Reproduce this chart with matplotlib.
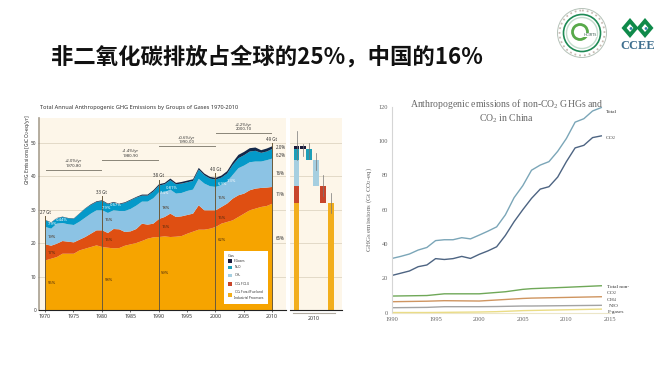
#!/usr/bin/env python3
import matplotlib
matplotlib.use("Agg")
import matplotlib.pyplot as plt
from matplotlib.patches import Circle, Polygon, Patch

W, H = 670, 381

title_text = "非二氧化碳排放占全球的25%，中国的16%"

# left chart, stacked tops by year
years = list(range(1970, 2011))
co2_fossil = [15, 15.5, 16, 17, 17, 17, 18, 18.5, 19, 19.5, 19, 18.8, 18.6, 18.7, 19.4, 19.8, 20.2, 20.8, 21.5, 21.9, 22,
              22.2, 22, 22.1, 22.3, 23, 23.6, 24.2, 24.2, 24.5, 25, 26, 26.5, 27, 28, 29, 30, 30.5, 31, 31.3, 32]
co2_folu = [19.8, 19.4, 20, 20.8, 20.6, 20.4, 21.2, 22, 23, 24, 24, 23.2, 24.4, 24.3, 23.5, 23.7, 24.4, 26, 25.7, 26, 27.4,
            28, 29, 28, 28.2, 28.6, 29, 31.5, 30, 30, 30, 31, 32, 33.5, 34.5, 35, 36, 36.5, 36.7, 36.8, 37]
ch4 = [25, 24.5, 26, 26.2, 25.8, 25.6, 26.6, 27.8, 29, 30, 30, 29.2, 30, 29.8, 29.8, 30.4, 31.4, 32.6, 32.6, 33.6, 35.4,
       35.4, 36.2, 35, 35.2, 35.8, 36.2, 39.4, 38, 37.2, 37, 37.6, 38.6, 40.6, 42.6, 43.4, 44.4, 44.6, 44.6, 45, 45.5]
n2o = [27, 26.3, 27.6, 28, 27.6, 27.5, 29, 30.5, 31.6, 32.5, 32.8, 31.8, 32.3, 31.8, 32.2, 33, 33.8, 34.4, 34.4, 35.6, 37.4,
       37.8, 39, 37.8, 38, 38.4, 38.8, 42.2, 40.5, 39.5, 39.2, 39.8, 41, 43.6, 45.6, 46.5, 47.6, 47.8, 47.2, 47.6, 48.4]
fgas = [27.1, 26.4, 27.7, 28.1, 27.7, 27.6, 29.1, 30.6, 31.8, 32.7, 33, 32, 32.5, 32, 32.4, 33.2, 34, 34.7, 34.7, 36, 37.8,
        38.2, 39.5, 38.2, 38.5, 38.9, 39.3, 42.7, 41, 40, 39.7, 40.4, 41.7, 44.4, 46.6, 47.5, 48.6, 48.8, 48, 48.5, 49.2]

left_title = "Total Annual Anthropogenic GHG Emissions by Groups of Gases 1970-2010"
left_ylabel = "GHG Emissions [GtCO$_2$-eq/yr]"
left_yticks = [0, 10, 20, 30, 40, 50]
left_xticks = [1970, 1975, 1980, 1985, 1990, 1995, 2000, 2005, 2010]
marker_years = [1970, 1980, 1990, 2000, 2010]
marker_tops = [27, 33, 38, 40, 49]
marker_labels = ["27 Gt", "33 Gt", "38 Gt", "40 Gt", "49 Gt"]
rate_spans = [(1970, 1980), (1980, 1990), (1990, 2000), (2000, 2010)]
rate_levels = [42, 45, 49, 53]
rate_labels = ["+2.0%/yr\n1970-80", "+1.4%/yr\n1980-90", "+0.6%/yr\n1990-00", "+2.2%/yr\n2000-10"]

pct_x = [1971.2, 1971.2, 1971.2, 1971.3, 1973, 1981.2, 1981.2, 1981.2, 1980.8, 1982.5,
         1991.2, 1991.2, 1991.2, 1991, 1992.4, 2001.2, 2001.2, 2001.2, 2001.2, 2002.8]
pct_y = [8, 17, 22, 25.8, 27, 9, 21, 27, 30.5, 31.5, 11, 25, 30.5, 35, 36.6, 21, 27.5, 33.5, 37.6, 38.7]
pct_txt = ["55%", "17%", "19%", "7.9%", "0.44%", "58%", "15%", "16%", "7.9%", "0.67%",
           "59%", "15%", "18%", "7.4%", "0.81%", "62%", "16%", "16%", "6.9%", "1.3%"]
pct_white = [3, 4, 8, 9, 13, 14, 18, 19]
side_y = [48.6, 46.4, 41, 34.6, 21.5]
side_txt = ["2.0%", "6.2%", "16%", "11%", "65%"]

# 2010 uncertainty bars
bar_x = [303, 309, 316, 323, 331]
bar_low = [48.2, 45, 37, 32, 0]
bar_high = [49, 48.2, 45, 37, 32]
whisker_high = [49.6, 50, 47, 40.4, 35]
stack_tops = [32, 37, 45, 48.2, 49]
stack_whisker = 53.6

gas_names = ["F-Gases", "N$_2$O", "CH$_4$", "CO$_2$ FOLU", "CO$_2$ Fossil Fuel and\nIndustrial Processes"]

# right chart
cn_years = list(range(1990, 2015))
cn_total = [31.6, 32.8, 34.2, 36.5, 38, 42, 42.5, 42.5, 43.7, 43, 45.2, 47.5, 50, 57, 67,
            74, 83, 86, 88, 94, 101.5, 111, 113, 117.5, 119.5]
cn_co2 = [21.7, 23, 24.3, 26.8, 27.8, 31.5, 31, 31.5, 32.8, 31.6, 34, 36, 38.4, 45, 53,
          60, 66.6, 72, 73.4, 79, 88, 96, 97.5, 102, 103]
small_years = [1990, 1994, 1996, 2000, 2002, 2003, 2005, 2006, 2010, 2014]
cn_nonco2 = [9.7, 10, 11, 11, 11.8, 12.2, 13.6, 14, 14.8, 15.7]
cn_ch4 = [6.4, 6.7, 7, 6.8, 7.4, 7.7, 8.3, 8.5, 8.9, 9.3]
cn_n2o = [2.9, 3.1, 3.5, 3.5, 3.6, 3.7, 3.9, 3.9, 4.1, 4.3]
cn_fgas = [0.1, 0.1, 0.2, 0.4, 0.6, 0.8, 1.2, 1.3, 1.7, 2.1]
right_title = "Anthropogenic emissions of non-CO$_2$ GHGs and\nCO$_2$ in China"
right_ylabel = "GHGs emissions (Gt CO$_2$-eq)"
right_xticks = [1990, 1995, 2000, 2005, 2010, 2015]
right_yticks = [0, 20, 40, 60, 80, 100, 120]

plt.rcParams["font.family"] = ["Noto Sans", "DejaVu Sans"]
plt.rcParams["mathtext.default"] = "regular"

ORANGE = "#f6a400"
RED = "#df4f12"
LTBLUE = "#8cc3e4"
TEAL = "#0499c9"
DARK = "#12284a"
PANEL = "#fdf6e9"
GRID = "#d9cfba"
INK = "#333333"


def px_axes(fig, x0, y0, x1, y1):
    # pixel box, y measured from the top of the image
    return fig.add_axes([x0 / W, 1 - y1 / H, (x1 - x0) / W, (y1 - y0) / H])


fig = plt.figure(figsize=(W / 100, H / 100), dpi=100, facecolor="white")

bg = fig.add_axes([0, 0, 1, 1])
bg.set_xlim(0, W)
bg.set_ylim(H, 0)
bg.axis("off")
bg.text(51, 57, title_text, family=["Noto Sans CJK SC", "DejaVu Sans"], fontsize=16.1,
        fontweight="bold", color="#111111", va="center", ha="left")

# logos
bg.add_patch(Circle((582, 33), 24.5, fc="none", ec="#b5c2b8", lw=0.7))
bg.add_patch(Circle((582, 33), 22.5, fc="none", ec="#c9bcb4", lw=1.3, ls=":"))
bg.add_patch(Circle((582, 33), 18.5, fc="none", ec="#1f8a55", lw=1.2))
bg.add_patch(Circle((582, 33), 15.5, fc="none", ec="#c4dccd", lw=1))
bg.add_patch(Circle((580, 32), 7.5, fc="none", ec="#58a94a", lw=2))
bg.text(590, 35, "HCIRTS", fontsize=2.8, color="#33594a", ha="center", va="center", fontweight="bold",
        bbox=dict(fc="white", ec="none", pad=0.3))
for cx, cy in [(630, 28), (645, 28)]:
    bg.add_patch(Polygon([(cx, cy - 10), (cx + 8.5, cy), (cx, cy + 10), (cx - 8.5, cy)], fc="#0f8a4a", ec="none"))
    bg.add_patch(Polygon([(cx, cy - 4), (cx + 3.4, cy), (cx, cy + 4), (cx - 3.4, cy)], fc="white", ec="none"))
    bg.add_patch(Circle((cx + 1, cy + 0.5), 1.4, fc="#2f7fa8", ec="none"))
bg.text(638, 46, "CCEE", family="Liberation Serif", fontsize=9, fontweight="bold", color="#3f6f8f",
        ha="center", va="center")

# left chart
ax = px_axes(fig, 39, 118, 286, 310)
ax.set_facecolor(PANEL)
ax.set_xlim(1970 - 6 / 5.675, 1970 + 241 / 5.675)
ax.set_ylim(0, 192 / 3.34)
ax.fill_between(years, 0, co2_fossil, color=ORANGE, lw=0, zorder=2)
ax.fill_between(years, co2_fossil, co2_folu, color=RED, lw=0, zorder=2)
ax.fill_between(years, co2_folu, ch4, color=LTBLUE, lw=0, zorder=2)
ax.fill_between(years, ch4, n2o, color=TEAL, lw=0, zorder=2)
ax.fill_between(years, n2o, fgas, color=DARK, lw=0, zorder=2)
ax.set_yticks(left_yticks)
ax.set_xticks(left_xticks)
ax.tick_params(labelsize=3.8, length=1.5, width=0.5, pad=1.5, colors=INK)
ax.tick_params(axis="y", labelsize=3.4, length=1, pad=0.8)
ax.yaxis.grid(True, color=GRID, lw=0.5)
ax.set_axisbelow(True)
for s in ["top", "right"]:
    ax.spines[s].set_visible(False)
ax.spines["left"].set_color("#a89f90")
ax.spines["left"].set_linewidth(1.2)
ax.spines["bottom"].set_color("#222222")
ax.spines["bottom"].set_linewidth(0.8)
for yr, top, lab in zip(marker_years, marker_tops, marker_labels):
    ax.plot([yr, yr], [0, top + 1], color="#6b5a3a", lw=0.7, zorder=3)
    ax.text(yr, top + 1.4, lab, fontsize=3.2, ha="center", va="bottom", color=INK, fontweight="bold", zorder=5)
for (a, b), lev, lab in zip(rate_spans, rate_levels, rate_labels):
    ax.plot([a + 0.1, b - 0.1], [lev, lev], color="#8a8578", lw=0.7, zorder=3)
    ax.text((a + b) / 2, lev + 0.6, lab, fontsize=3, ha="center", va="bottom", color=INK, linespacing=1.1)
for i, (x, y, t) in enumerate(zip(pct_x, pct_y, pct_txt)):
    c = "white" if i in pct_white else "#4a2a10"
    ax.text(x, y, t, fontsize=3, ha="center", va="center", color=c, fontweight="bold", zorder=5)
for y, t in zip(side_y, side_txt):
    ax.text(2010.7, y, t, fontsize=3.2, ha="left", va="center", color=INK, fontweight="bold", zorder=5)
handles = [Patch(fc=c, label=n) for c, n in zip(["#1a1a3a", "#1d9fb8", "#a6cfe0", "#c8452a", "#f2ae1c"], gas_names)]
leg = ax.legend(handles=handles, title="Gas", loc="lower left", bbox_to_anchor=(224 / W, 1 - 304 / H),
                bbox_transform=fig.transFigure, fontsize=2.3, title_fontsize=2.8, frameon=True, fancybox=False,
                framealpha=1, edgecolor="none", borderpad=1.1, borderaxespad=0, labelspacing=0.2,
                handlelength=1.3, handleheight=1.3, handletextpad=0.7)
leg.set_zorder(6)
leg._legend_box.align = "left"
leg.get_title().set_color(INK)
for t in leg.get_texts():
    t.set_color(INK)

# 2010 bars, x in image pixels
bx = px_axes(fig, 290, 118, 342, 310)
bx.set_facecolor(PANEL)
bx.set_xlim(290, 342)
bx.set_ylim(0, 192 / 3.34)
bx.yaxis.grid(True, color=GRID, lw=0.5)
bx.set_axisbelow(True)
bx.set_yticks(left_yticks)
bx.set_xticks([])
bx.tick_params(left=False, labelleft=False)
for s in ["top", "right", "left"]:
    bx.spines[s].set_visible(False)
bx.spines["bottom"].set_color("#222222")
bx.spines["bottom"].set_linewidth(0.8)
bar_cols = ["#1a1a3a", "#1d9fb8", "#a6cfe0", "#c8452a", "#f2ae1c"]
prev = 0
stack_cols = ["#f2ae1c", "#c8452a", "#a6cfe0", "#1d9fb8", "#1a1a3a"]
for top, c in zip(stack_tops, stack_cols):
    bx.bar(296.7, top - prev, bottom=prev, width=5.2, color=c, lw=0, zorder=2)
    prev = top
bx.plot([296.7, 296.7], [45, stack_whisker], color="#777777", lw=0.5, zorder=3)
bx.bar(bar_x, [h - l for h, l in zip(bar_high, bar_low)], bottom=bar_low, width=5.2, color=bar_cols, lw=0, zorder=2)
for x, h, w in zip(bar_x, bar_high, whisker_high):
    bx.plot([x, x], [h - 3, w], color="#777777", lw=0.5, zorder=3)
bg.plot([293, 335], [313, 313], color="#b0aaa0", lw=0.8)
bg.text(314, 318.5, "2010", fontsize=3.8, ha="center", va="center", color=INK)
bg.text(40, 107.5, left_title, fontsize=4.05, fontweight="bold", color="#333333", ha="left", va="center")
bg.text(27, 150, left_ylabel, fontsize=3.6, fontweight="bold", color=INK, rotation=90, ha="center", va="center")

# right chart
rx = px_axes(fig, 392, 106.7, 610, 312.7)
rx.set_xlim(1990, 2015)
rx.set_ylim(0, 120)
rx.patch.set_alpha(0)
rx.plot(cn_years, cn_total, color="#7ba6b8", lw=1)
rx.plot(cn_years, cn_co2, color="#4d6482", lw=1)
rx.plot(small_years, cn_nonco2, color="#6fa858", lw=1)
rx.plot(small_years, cn_ch4, color="#cf9560", lw=1)
rx.plot(small_years, cn_n2o, color="#a3a3a3", lw=1)
rx.plot(small_years, cn_fgas, color="#eadc85", lw=1)
rx.set_xticks(right_xticks)
rx.set_yticks(right_yticks)
rx.tick_params(labelsize=4.6, length=0, pad=3, colors="#666666")
for lab in rx.get_xticklabels() + rx.get_yticklabels():
    lab.set_family("Liberation Serif")
for s in ["top", "right"]:
    rx.spines[s].set_visible(False)
rx.spines["left"].set_color("#d5d5d5")
rx.spines["bottom"].set_color("#ece6c8")
rx.set_ylabel(right_ylabel, fontsize=5, family="Liberation Serif", color="#666666", labelpad=3)
plt.rcParams["mathtext.fontset"] = "custom"
plt.rcParams["mathtext.rm"] = "Liberation Serif"
bg.text(506.7, 111, right_title, family="Liberation Serif", fontsize=7.05, color="#666666", ha="center", va="center",
        linespacing=1.15, zorder=10)
for x, y, t in [(606, 112, "Total"), (605, 138, "CO$_2$"), (607, 286.5, "Total non-"), (606, 293.5, "CO$_2$"),
                (606, 300.5, "CH$_4$"), (608, 306.5, "N$_2$O"), (608, 312.5, "F-gases")]:
    bg.text(x, y, t, family="Liberation Serif", fontsize=3.9, color="#333333", ha="left", va="center", zorder=10)

fig.savefig("out.png", dpi=100)
